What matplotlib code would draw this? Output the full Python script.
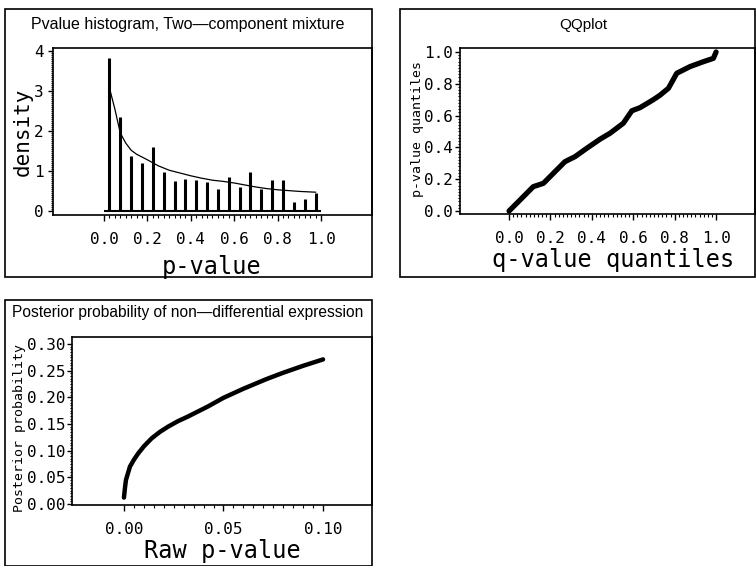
import numpy as np
import matplotlib
matplotlib.use("Agg")
import matplotlib.pyplot as plt
from matplotlib.patches import Rectangle

# histogram of p-values (bin centres, densities) and the fitted mixture
bin_centers = [0.025, 0.075, 0.125, 0.175, 0.225, 0.275, 0.325, 0.375, 0.425, 0.475,
               0.525, 0.575, 0.625, 0.675, 0.725, 0.775, 0.825, 0.875, 0.925, 0.975]
bin_density = [3.83, 2.36, 1.37, 1.21, 1.59, 0.98, 0.75, 0.81, 0.77, 0.73,
               0.55, 0.84, 0.59, 0.98, 0.56, 0.77, 0.77, 0.23, 0.31, 0.46]
mix_x = [0.025, 0.05, 0.075, 0.1, 0.125, 0.15, 0.2, 0.25, 0.3, 0.35, 0.4,
         0.45, 0.5, 0.55, 0.6, 0.65, 0.7, 0.75, 0.8, 0.85, 0.9, 0.975]
mix_y = [3.08, 2.55, 1.95, 1.70, 1.52, 1.42, 1.28, 1.13, 1.02, 0.95, 0.88,
         0.82, 0.77, 0.74, 0.70, 0.65, 0.60, 0.56, 0.53, 0.51, 0.49, 0.47]

# QQ plot: q-value quantiles vs p-value quantiles
qq_x = [0.0, 0.053, 0.117, 0.166, 0.214, 0.27, 0.319, 0.375, 0.44, 0.488,
        0.552, 0.593, 0.633, 0.697, 0.729, 0.77, 0.81, 0.874, 0.939, 0.987, 1.0]
qq_y = [0.0, 0.069, 0.153, 0.174, 0.237, 0.31, 0.342, 0.394, 0.452, 0.489,
        0.552, 0.630, 0.650, 0.700, 0.728, 0.772, 0.866, 0.908, 0.939, 0.96, 1.0]

# posterior probability of non-differential expression vs raw p-value
post_x = [0.0, 0.0005, 0.001, 0.003, 0.005, 0.0072, 0.01, 0.0139, 0.018, 0.0222,
          0.027, 0.0322, 0.0423, 0.05, 0.06, 0.0715, 0.08, 0.09, 0.1]
post_y = [0.012, 0.03, 0.045, 0.07, 0.083, 0.095, 0.108, 0.123, 0.135, 0.145,
          0.155, 0.164, 0.183, 0.199, 0.216, 0.234, 0.246, 0.259, 0.271]

hist_xticks = [0.0, 0.2, 0.4, 0.6, 0.8, 1.0]
hist_yticks = [0, 1, 2, 3, 4]
qq_ticks = [0.0, 0.2, 0.4, 0.6, 0.8, 1.0]
post_xticks = [0.00, 0.05, 0.10]
post_yticks = [0.00, 0.05, 0.10, 0.15, 0.20, 0.25, 0.30]

W, H = 756, 566
plt.rcParams["font.family"] = ["Liberation Sans", "DejaVu Sans"]
mono = "DejaVu Sans Mono"

fig = plt.figure(figsize=(W / 100, H / 100), dpi=100)


def add_ax(x0, y0, x1, y1):
    return fig.add_axes([x0 / W, 1 - y1 / H, (x1 - x0) / W, (y1 - y0) / H])


def box(x0, y0, x1, y1):
    fig.add_artist(Rectangle((x0 / W, 1 - y1 / H), (x1 - x0) / W, (y1 - y0) / H,
                             transform=fig.transFigure, fill=False, ec="black", lw=1.2))


def ftext(x, y, s, **kw):
    fig.text(x / W, 1 - y / H, s, **kw)


def style(ax, xt, xfmt, xminor, yt, yfmt, yminor, ypad=1.5):
    ax.set_xticks(xt)
    ax.set_xticklabels([xfmt.format(v) for v in xt], family=mono, fontsize=11.5)
    ax.set_xticks(xminor, minor=True)
    ax.set_yticks(yt)
    ax.set_yticklabels([yfmt.format(v) for v in yt], family=mono, fontsize=11.5)
    ax.set_yticks(yminor, minor=True)
    ax.tick_params(which="major", direction="out", length=3.5, width=1, pad=ypad)
    ax.tick_params(axis="x", which="major", length=4, pad=8)
    ax.tick_params(which="minor", direction="out", length=1.8, width=0.8)
    for s in ax.spines.values():
        s.set_linewidth(1.2)


# panel 1: p-value histogram
box(5, 9, 372, 277)
ax1 = add_ax(53, 48, 372, 215)
ax1.vlines(bin_centers, 0, bin_density, color="black", lw=2.2)
ax1.hlines(0, 0, 1, color="black", lw=1.5)
ax1.plot(mix_x, mix_y, color="black", lw=0.9)
ax1.set_xlim(-0.235, 1.235)
ax1.set_ylim(-0.1, 4.075)
style(ax1, hist_xticks, "{:.1f}", np.arange(0, 1.001, 0.025),
      hist_yticks, "{:d}", np.arange(0, 4.001, 0.05), ypad=3)
ftext(188, 25, "Pvalue histogram, Two\u2014component mixture", ha="center", va="center",
      fontsize=11.5)
ftext(23, 132, "density", family=mono, fontsize=15, rotation=90, ha="center", va="center")
ftext(212, 274, "p-value", family=mono, fontsize=17, ha="center", va="baseline")

# panel 2: QQ plot
box(400, 9, 755, 277)
ax2 = add_ax(460, 48, 755, 214)
ax2.plot(qq_x, qq_y, color="black", lw=3.8, solid_capstyle="round", solid_joinstyle="round")
ax2.set_xlim(-0.237, 1.188)
ax2.set_ylim(-0.019, 1.025)
style(ax2, qq_ticks, "{:.1f}", np.arange(0, 1.001, 0.02),
      qq_ticks, "{:.1f}", np.arange(0, 1.001, 0.02))
ftext(583, 25, "QQplot", ha="center", va="center", fontsize=11)
ftext(417, 129, "p-value quantiles", family=mono, fontsize=9.5, rotation=90,
      ha="center", va="center")
ftext(613, 267, "q-value quantiles", family=mono, fontsize=17, ha="center", va="baseline")

# panel 3: posterior probability
box(5, 300, 372, 566)
ax3 = add_ax(72, 337, 372, 505)
ax3.plot(post_x, post_y, color="black", lw=3.2, solid_capstyle="round")
ax3.set_xlim(-0.0261, 0.1246)
ax3.set_ylim(-0.0019, 0.313)
style(ax3, post_xticks, "{:.2f}", np.arange(0, 0.1001, 0.005),
      post_yticks, "{:.2f}", np.arange(0, 0.3001, 0.005))
ftext(188, 312, "Posterior probability of non\u2014differential expression",
      ha="center", va="center", fontsize=11.2)
ftext(20, 428, "Posterior probability", family=mono, fontsize=9.5, rotation=90,
      ha="center", va="center")
ftext(222, 558, "Raw p-value", family=mono, fontsize=17, ha="center", va="baseline")

fig.savefig("out.png", dpi=100)
